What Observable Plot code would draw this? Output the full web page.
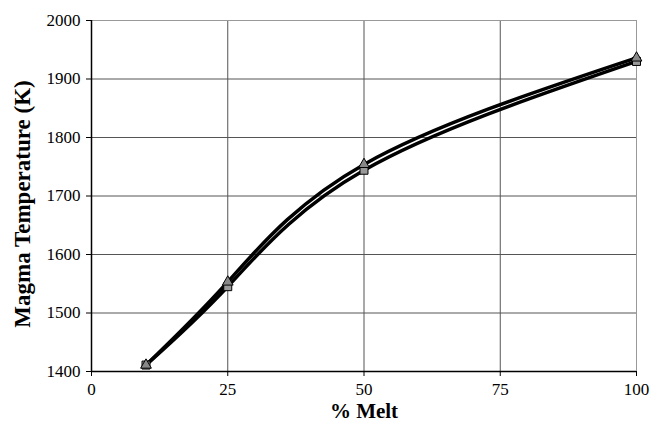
<!DOCTYPE html>
<html>
<head>
<meta charset="utf-8">
<script src="https://cdn.jsdelivr.net/npm/d3@7"></script>
<script src="https://cdn.jsdelivr.net/npm/@observablehq/plot@0.6"></script>
<style>
  html, body { margin: 0; padding: 0; background: #fff; }
  #chart { width: 650px; height: 431px; overflow: hidden; }
</style>
</head>
<body>
<div id="chart"></div>
<script>
const melt = [10, 25, 50, 100];
const tempSquare = [1411, 1545, 1744, 1930];
const tempTriangle = [1411, 1553, 1754, 1936];
const xTicks = [0, 25, 50, 75, 100];
const yTicks = [1400, 1500, 1600, 1700, 1800, 1900, 2000];
const xTitle = "% Melt";
const yTitle = "Magma Temperature (K)";

const sq = melt.map((m, i) => ({melt: m, temp: tempSquare[i]}));
const tri = melt.map((m, i) => ({melt: m, temp: tempTriangle[i]}));

const chart = Plot.plot({
  width: 650,
  height: 431,
  marginLeft: 91,
  marginRight: 14,
  marginTop: 20,
  marginBottom: 60,
  style: {fontFamily: "Liberation Serif, Times New Roman, serif", fontSize: "16px", color: "black", background: "white"},
  x: {domain: [0, 100]},
  y: {domain: [1400, 2000]},
  marks: [
    Plot.gridX(xTicks.slice(1), {stroke: "#555", strokeOpacity: 1, strokeWidth: 1}),
    Plot.gridY(yTicks.slice(1), {stroke: "#555", strokeOpacity: 1, strokeWidth: 1}),
    Plot.frame({stroke: "#999", strokeWidth: 1}),
    Plot.axisX(xTicks, {tickSize: 5, tickPadding: 6, fontSize: 17, label: null, tickFormat: d => String(d)}),
    Plot.axisY(yTicks, {tickSize: 5, tickPadding: 6, fontSize: 17, label: null, tickFormat: d => String(d)}),
    Plot.ruleX([0], {stroke: "black", strokeWidth: 1.5}),
    Plot.ruleY([1400], {stroke: "black", strokeWidth: 1.5}),
    Plot.line(sq, {x: "melt", y: "temp", stroke: "black", strokeWidth: 3.5, curve: "natural"}),
    Plot.line(tri, {x: "melt", y: "temp", stroke: "black", strokeWidth: 3.5, curve: "natural"}),
    Plot.dot(sq, {x: "melt", y: "temp", symbol: "square", r: 4.5, fill: "#999", stroke: "black", strokeWidth: 1}),
    Plot.dot(tri, {x: "melt", y: "temp", symbol: "triangle", r: 4, fill: "#888", stroke: "black", strokeWidth: 1}),
    Plot.text([xTitle], {frameAnchor: "bottom", dy: 40, fontSize: 21, fontWeight: "bold", lineAnchor: "middle", textAnchor: "middle"}),
    Plot.text([yTitle], {frameAnchor: "left", dx: -69, dy: 8, rotate: -90, fontSize: 23, fontWeight: "bold", textAnchor: "middle", lineAnchor: "middle"})
  ]
});
document.getElementById("chart").appendChild(chart);
</script>
</body>
</html>
